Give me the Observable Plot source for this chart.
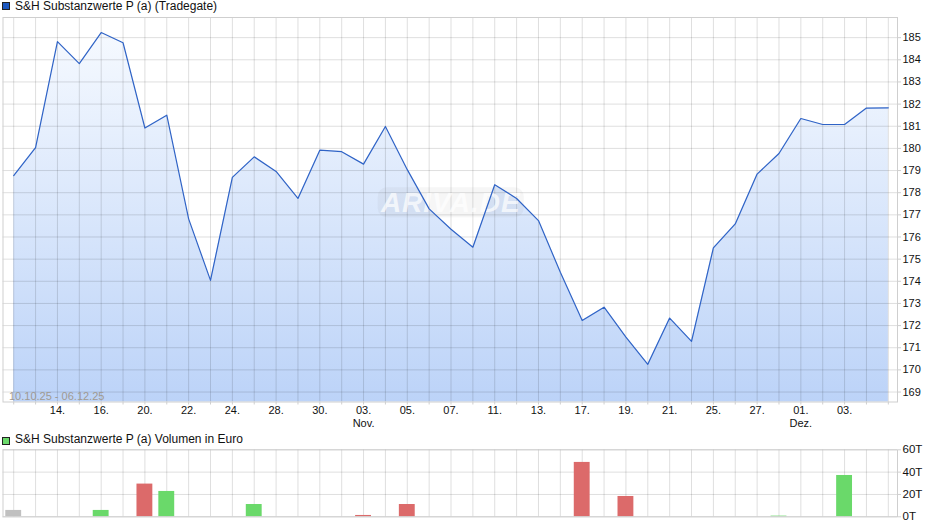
<!DOCTYPE html>
<html><head><meta charset="utf-8">
<script src="https://cdn.jsdelivr.net/npm/d3@7"></script>
<script src="https://cdn.jsdelivr.net/npm/@observablehq/plot@0.6"></script>
<style>
body{margin:0;background:#fff;font-family:"Liberation Sans",Arial,sans-serif;}
#wrap{position:relative;width:940px;height:526px;overflow:hidden;background:#fff;}
.leg{position:absolute;left:15px;font-size:12px;line-height:14px;color:#111;white-space:nowrap;}
.sq{position:absolute;left:2px;width:8px;height:8px;box-sizing:border-box;border:1px solid #222;}
#main,#vol{position:absolute;left:0;}
svg{font-family:"Liberation Sans",Arial,sans-serif;}
</style></head><body>
<div id="wrap">
  <div class="sq" style="top:2px;background:#1c58c0"></div>
  <div class="leg" style="top:-1px">S&amp;H Substanzwerte P (a) (Tradegate)</div>
  <div id="main" style="top:14px"></div>
  <div class="sq" style="top:437px;background:#6ad96a"></div>
  <div class="leg" style="top:432px">S&amp;H Substanzwerte P (a) Volumen in Euro</div>
  <div id="vol" style="top:440px"></div>
</div>
<script>
// ---- data ----
const dates = ["10.10.25","13.10.25","14.10.25","15.10.25","16.10.25","17.10.25",
  "20.10.25","21.10.25","22.10.25","23.10.25","24.10.25",
  "27.10.25","28.10.25","29.10.25","30.10.25","31.10.25",
  "03.11.25","04.11.25","05.11.25","06.11.25","07.11.25",
  "10.11.25","11.11.25","12.11.25","13.11.25","14.11.25",
  "17.11.25","18.11.25","19.11.25","20.11.25","21.11.25",
  "24.11.25","25.11.25","26.11.25","27.11.25","28.11.25",
  "01.12.25","02.12.25","03.12.25","04.12.25","05.12.25"];
const prices = [178.77,180.04,184.82,183.83,185.23,184.77,
  180.92,181.50,176.82,174.04,178.69,
  179.62,178.96,177.74,179.92,179.85,
  179.29,180.99,179.04,177.27,176.35,
  175.54,178.36,177.74,176.74,174.41,
  172.23,172.83,171.48,170.25,172.34,
  171.29,175.51,176.59,178.84,179.77,
  181.35,181.08,181.08,181.82,181.83];
const tickDates = ["14.10.25","16.10.25","20.10.25","22.10.25","24.10.25","28.10.25","30.10.25",
  "03.11.25","05.11.25","07.11.25","11.11.25","13.11.25","17.11.25","19.11.25","21.11.25",
  "25.11.25","27.11.25","01.12.25","03.12.25"];
const tickLabels = ["14.","16.","20.","22.","24.","28.","30.",
  "03.\nNov.","05.","07.","11.","13.","17.","19.","21.",
  "25.","27.","01.\nDez.","03."];
const priceTicks = [169,170,171,172,173,174,175,176,177,178,179,180,181,182,183,184,185];
const rangeLabel = "10.10.25 - 06.12.25";

const volDates = ["10.10.25","16.10.25","20.10.25","21.10.25","27.10.25","03.11.25","05.11.25",
  "17.11.25","19.11.25","28.11.25","03.12.25"];
const volValues = [5700,5700,29300,22700,11000,1200,11000,48700,18200,600,37000];
const volDir = ["none","up","down","up","up","down","down","down","down","up","up"];
const volTicks = [0,20000,40000,60000];

// ---- config ----
const dirColor = {up:"#6ad96a", down:"#dc6a6a", none:"#c0c0c0"};
const xDomain = [-0.49, 40.42];
const yDomain = [168.55, 185.91];
const W = 940, mL = 2.5, mR = 43;
const idx = d3.range(dates.length);
const priceData = prices.map((p,i)=>({i, p}));
const volData = volDates.map((d,k)=>({i: dates.indexOf(d), v: volValues[k], c: dirColor[volDir[k]]}));
const tickData = tickDates.map((d,k)=>({i: dates.indexOf(d), t: tickLabels[k]}));

function gradientDefs(index, scales, values, dims) {
  const defs = d3.create("svg:defs");
  const g = defs.append("linearGradient").attr("id","areaGrad")
    .attr("gradientUnits","userSpaceOnUse")
    .attr("x1",0).attr("x2",0)
    .attr("y1", dims.marginTop).attr("y2", dims.height - dims.marginBottom);
  g.append("stop").attr("offset","0%").attr("stop-color","#f8fbff");
  g.append("stop").attr("offset","100%").attr("stop-color","#bcd3f8");
  return defs.node();
}
function watermark(index, scales, values, dims) {
  const cx = (dims.marginLeft + dims.width - dims.marginRight)/2 + 1;
  const cy = (dims.marginTop + dims.height - dims.marginBottom)/2 - 7;
  const g = d3.create("svg:g");
  g.append("rect").attr("x", cx-73).attr("y", cy-15).attr("width",146).attr("height",30)
    .attr("rx",9).attr("fill","#888").attr("fill-opacity",0.08);
  g.append("text").attr("x",cx).attr("y",cy).attr("text-anchor","middle").attr("dy","0.36em")
    .attr("font-size",28).attr("font-weight","bold").attr("font-style","italic")
    .attr("fill","#fff").attr("fill-opacity",0.7).attr("letter-spacing",1).text("ARIVA.DE");
  return g.node();
}

const main = Plot.plot({
  width: W, height: 418,
  marginTop: 3, marginBottom: 30.5, marginLeft: mL, marginRight: mR,
  x: {domain: xDomain, axis: null},
  y: {domain: yDomain, axis: null},
  style: {background: "transparent", fontFamily: "Liberation Sans, Arial, sans-serif"},
  marks: [
    gradientDefs,
    Plot.areaY(priceData, {x: "i", y1: yDomain[0], y2: "p", fill: "url(#areaGrad)"}),
    Plot.gridX(idx, {stroke: "#000", strokeOpacity: 0.13}),
    Plot.gridY(priceTicks, {stroke: "#000", strokeOpacity: 0.13}),
    watermark,
    Plot.lineY(priceData, {x: "i", y: "p", stroke: "#2f63c6", strokeWidth: 1.2}),
    Plot.frame({stroke: "#cfcfcf"}),
    Plot.axisY(priceTicks, {anchor: "right", tickSize: 3, tickPadding: 2, fontSize: 11,
      stroke: "#cfcfcf", fill: "#111", label: null, tickFormat: d => String(d)}),
    Plot.axisX(idx, {anchor: "bottom", tickSize: 3, tickFormat: () => "", stroke: "#cfcfcf", label: null}),
    Plot.text(tickData, {x: "i", text: "t", frameAnchor: "bottom", lineAnchor: "top", dy: 3.5,
      fontSize: 11, lineHeight: 1.15, fill: "#111"}),
    Plot.text([rangeLabel], {text: d => d, frameAnchor: "bottom-left", textAnchor: "start",
      lineAnchor: "bottom", dx: 6, dy: -2, fontSize: 11, fill: "#a09a92"})
  ]
});
document.getElementById("main").appendChild(main);

const vol = Plot.plot({
  width: W, height: 85,
  marginTop: 9.3, marginBottom: 8.7, marginLeft: mL, marginRight: mR,
  x: {domain: xDomain, axis: null},
  y: {domain: [0, 60000], axis: null},
  color: {type: "identity"},
  style: {background: "transparent", fontFamily: "Liberation Sans, Arial, sans-serif"},
  marks: [
    Plot.gridX(idx, {stroke: "#000", strokeOpacity: 0.13}),
    Plot.gridY(volTicks, {stroke: "#000", strokeOpacity: 0.13}),
    Plot.rectY(volData, {x1: d => d.i - 0.5, x2: d => d.i + 0.5, y: "v", fill: "c",
      insetLeft: 3, insetRight: 3}),
    Plot.frame({stroke: "#cfcfcf"}),
    Plot.axisY(volTicks, {anchor: "right", tickSize: 3, tickPadding: 2, fontSize: 11.5,
      stroke: "#cfcfcf", fill: "#111", label: null, tickFormat: d => (d/1000) + "T"})
  ]
});
document.getElementById("vol").appendChild(vol);
</script>
</body></html>
